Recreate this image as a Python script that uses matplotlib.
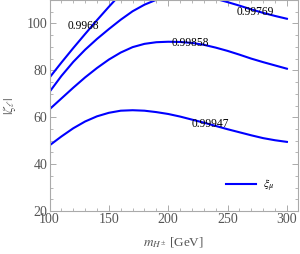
import matplotlib
matplotlib.use("Agg")
import matplotlib.pyplot as plt
from matplotlib.ticker import MultipleLocator

plt.rcParams["font.family"] = "serif"
plt.rcParams["font.serif"] = ["Liberation Serif", "DejaVu Serif"]
plt.rcParams["mathtext.fontset"] = "stix"

# charged Higgs mass [GeV]
mass = [100, 110, 120, 130, 140, 150, 160, 170, 180, 190, 200,
        210, 220, 230, 240, 250, 260, 270, 280, 290, 300]

# |zeta_l| contours
zeta_99947 = [48.0, 51.8, 55.3, 58.2, 60.4, 61.9, 62.8, 63.0, 62.8, 62.2, 61.4,
              60.3, 59.0, 57.7, 56.3, 54.9, 53.6, 52.3, 51.1, 50.2, 49.5]
zeta_99858 = [63.4, 68.0, 72.6, 77.0, 81.0, 84.6, 87.6, 89.9, 91.3, 92.0, 92.2,
              92.1, 91.7, 90.9, 89.7, 88.3, 86.7, 85.0, 83.5, 82.1, 80.7]
zeta_99769 = [70.8, 77.6, 83.6, 88.8, 93.4, 97.6, 101.6, 105.2, 108.0, 110.1, 111.4,
              112.1, 112.2, 111.6, 110.5, 109.1, 107.6, 106.0, 104.5, 103.2, 102.0]
mass_9968 = [100, 110, 120, 130, 140, 150, 160, 170]
zeta_9968 = [76.9, 83.3, 89.5, 95.5, 101.4, 107.1, 112.6, 117.8]

labels = ["0.9968", "0.99769", "0.99858", "0.99947"]
label_x = [128.5, 273.3, 218.8, 235.2]
label_y = [98.9, 104.8, 91.6, 57.0]

fig = plt.figure(figsize=(3.0, 2.54), dpi=100)
ax = fig.add_axes([0.165, 0.169, 0.827, 0.831])

blue = "#0000ff"
ax.plot(mass, zeta_99947, color=blue, lw=1.5, label=r"$\xi_\mu$")
ax.plot(mass, zeta_99858, color=blue, lw=1.5)
ax.plot(mass, zeta_99769, color=blue, lw=1.5)
ax.plot(mass_9968, zeta_9968, color=blue, lw=1.5)

for txt, x, y in zip(labels, label_x, label_y):
    ax.text(x, y, txt, fontsize=8.3, ha="center", va="center", color="black")

ax.set_xlim(100, 309)
ax.set_ylim(20, 110)
ax.xaxis.set_major_locator(MultipleLocator(50))
ax.xaxis.set_minor_locator(MultipleLocator(10))
ax.yaxis.set_major_locator(MultipleLocator(20))
ax.yaxis.set_minor_locator(MultipleLocator(5))

for s in ax.spines.values():
    s.set_color("#aaaaaa")
    s.set_linewidth(0.8)
ax.tick_params(which="both", direction="in", top=True, right=True,
               color="#aaaaaa", labelcolor="#555555", labelsize=10, pad=1.5)
ax.tick_params(which="major", length=4, width=0.7)
ax.tick_params(which="minor", length=2, width=0.6)

ax.set_xlabel(r"$m_{H^{\pm}}$ [GeV]", fontsize=9.5, color="#555555", labelpad=7)
ax.set_ylabel(r"$|\zeta_\ell|$", fontsize=9.5, color="#555555", labelpad=6)

ax.legend(loc="center left", bbox_to_anchor=(0.71, 0.12), frameon=False,
          fontsize=8.5, handlelength=2.6, handletextpad=0.6, borderpad=0,
          borderaxespad=0)

fig.savefig("out.png", dpi=100)
